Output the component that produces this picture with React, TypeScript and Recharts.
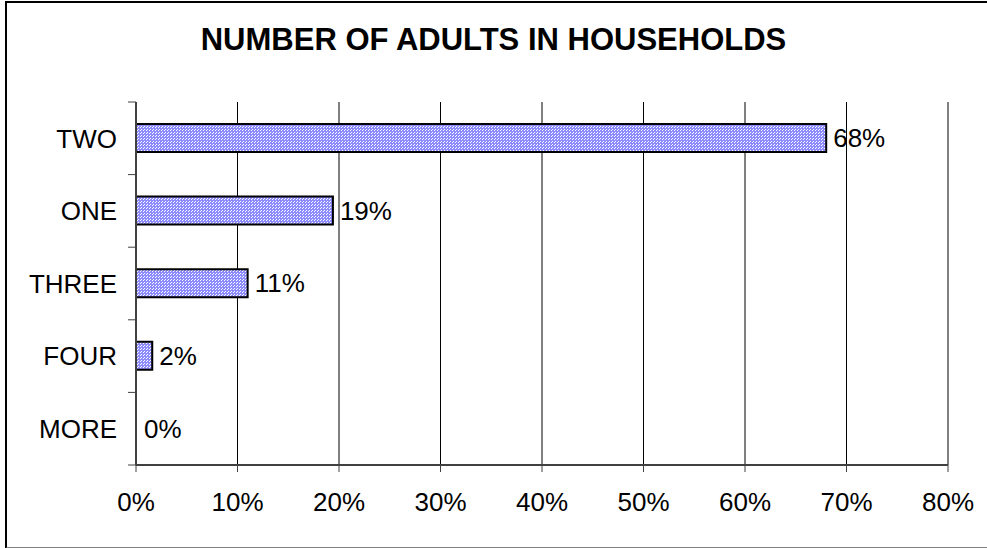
import React from "react";
import {
  BarChart,
  Bar,
  Cell,
  XAxis,
  YAxis,
  CartesianGrid,
  LabelList,
} from "recharts";

// household size categories, share of households (%)
const categories = ["TWO", "ONE", "THREE", "FOUR", "MORE"];
const shares = [68, 19.4, 11, 1.6, 0];
const xTicks = [0, 10, 20, 30, 40, 50, 60, 70, 80];

const data = categories.map((name, i) => ({ name, value: shares[i] }));

const FONT = "'Liberation Sans', Arial, Helvetica, sans-serif";
const PLOT_H = 363;
const BAND_HALF = PLOT_H / categories.length / 2;

/** y-axis label with Excel-style tick marks between categories */
function CategoryTick(props: any) {
  const { x, y, payload, index } = props;
  return (
    <g>
      <text
        x={x}
        y={y}
        dy="0.355em"
        textAnchor="end"
        fontSize={26}
        fontFamily={FONT}
        fill="#000"
      >
        {payload.value}
      </text>
      <line x1={x + 11} x2={x + 19} y1={y - BAND_HALF} y2={y - BAND_HALF} stroke="#404040" />
      {index === categories.length - 1 && (
        <line x1={x + 11} x2={x + 19} y1={y + BAND_HALF} y2={y + BAND_HALF} stroke="#404040" />
      )}
    </g>
  );
}

export default function App() {
  return (
    <div
      style={{
        position: "absolute",
        left: 0,
        top: 0,
        width: 987,
        height: 548,
        background: "#fff",
        fontFamily: FONT,
      }}
    >
      <svg width={0} height={0} style={{ position: "absolute" }}>
        <defs>
          <pattern id="bluedots" width="3" height="3" patternUnits="userSpaceOnUse">
            <rect x="0" y="0" width="3" height="3" fill="#8c8cff" />
            <rect x="0" y="0" width="1" height="1" fill="#ffffff" />
            <rect x="2" y="1" width="1" height="1" fill="#ffffff" />
          </pattern>
        </defs>
      </svg>
      {/* chart frame */}
      <div
        style={{
          position: "absolute",
          left: 5,
          top: 1,
          width: 990,
          height: 544,
          borderLeft: "2px solid #000",
          borderTop: "2px solid #000",
          borderBottom: "2px solid #808080",
        }}
      />
      <div
        style={{
          position: "absolute",
          left: 0,
          top: 22,
          width: 987,
          textAlign: "center",
          fontSize: 31,
          fontWeight: "bold",
          color: "#000",
        }}
      >
        NUMBER OF ADULTS IN HOUSEHOLDS
      </div>
      <div style={{ position: "absolute", left: 0, top: 0 }}>
        <BarChart
          width={987}
          height={548}
          data={data}
          layout="vertical"
          margin={{ top: 102, right: 39, bottom: 43, left: 0 }}
        >
          <CartesianGrid horizontal={false} stroke="#000" />
          <XAxis
            type="number"
            dataKey="value"
            domain={[0, 80]}
            ticks={xTicks}
            interval={0}
            tickFormatter={(v) => `${v}%`}
            axisLine={{ stroke: "#404040", strokeWidth: 2 }}
            tickLine={{ stroke: "#404040" }}
            tickSize={7}
            tickMargin={21}
            height={40}
            tick={{ fontSize: 26, fill: "#000", fontFamily: FONT }}
          />
          <XAxis
            xAxisId="top"
            orientation="top"
            type="number"
            domain={[0, 80]}
            height={0}
            tick={false}
            tickLine={false}
            axisLine={{ stroke: "#909090", strokeWidth: 2 }}
          />
          <YAxis
            type="category"
            dataKey="name"
            width={136}
            tickSize={0}
            tickMargin={19}
            axisLine={{ stroke: "#404040", strokeWidth: 2 }}
            tickLine={false}
            tick={<CategoryTick />}
          />
          <YAxis
            yAxisId="right"
            orientation="right"
            type="category"
            dataKey="name"
            width={0}
            tick={false}
            tickLine={false}
            axisLine={{ stroke: "#909090", strokeWidth: 2 }}
          />
          <Bar
            dataKey="value"
            fill="url(#bluedots)"
            stroke="#000"
            strokeWidth={2}
            barSize={28}
            minPointSize={1}
            isAnimationActive={false}
          >
            {data.map((d) => (
              <Cell key={d.name} stroke={d.value > 0 ? "#000" : "none"} fill={d.value > 0 ? "url(#bluedots)" : "none"} />
            ))}
            <LabelList
              dataKey="value"
              position="right"
              offset={7}
              formatter={(v: any) => `${Math.round(Number(v))}%`}
              style={{ fontSize: 26, fill: "#000", fontFamily: FONT }}
            />
          </Bar>
        </BarChart>
      </div>
    </div>
  );
}
